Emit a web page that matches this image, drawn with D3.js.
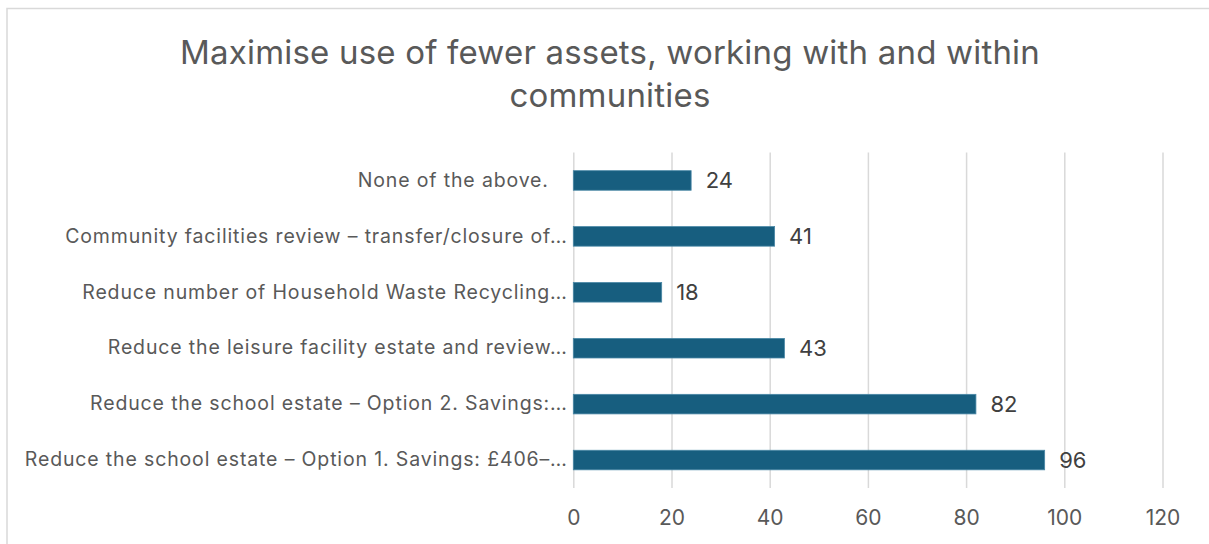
<!DOCTYPE html>
<html><head><meta charset="utf-8">
<script src="https://cdn.jsdelivr.net/npm/d3@7"></script>
<style>body{margin:0;background:#fff;} svg{display:block;} text{white-space:pre;}</style>
</head><body>
<svg id="c" width="1209" height="544"></svg>
<script>
const titleLines = ["Maximise use of fewer assets, working with and within", "communities"];
const categories = [
  "None of the above.\u00a0\u00a0\u00a0",
  "Community facilities review – transfer/closure of…",
  "Reduce number of Household Waste Recycling…",
  "Reduce the leisure facility estate and review…",
  "Reduce the school estate – Option 2. Savings:…",
  "Reduce the school estate – Option 1. Savings: £406–…"
];
const values = [24, 41, 18, 43, 82, 96];
const tickValues = [0, 20, 40, 60, 80, 100, 120];

const svg = d3.select("#c");
const font = "Inter, 'Open Sans', sans-serif";
svg.append("rect").attr("x",7).attr("y",8.5).attr("width",1300).attr("height",600)
  .attr("fill","#fff").attr("stroke","#d9d9d9").attr("stroke-width",1.5);

const m = {left:573.3, right:1162.5, top:152.5, bottom:488};
const x = d3.scaleLinear().domain([0,120]).range([m.left, m.right]);
const y = d3.scaleBand().domain(categories).range([m.top, m.bottom]).paddingInner(0.65).paddingOuter(0.325);

function fit(sel, target) {
  // uniform letter-spacing so the widest text of the group reaches target width
  let maxL = 0, maxN = 1;
  sel.each(function(){ const L=this.getComputedTextLength(); if (L>maxL){maxL=L; maxN=this.textContent.length;} });
  const ls = (target - maxL) / maxN;
  sel.attr("letter-spacing", ls);
}

// title
const tt = svg.append("g").selectAll("text").data(titleLines).join("text")
  .attr("x", 610).attr("y",(d,i)=>64.3 + i*43)
  .attr("text-anchor","middle").attr("font-family",font).attr("font-size",33)
  .attr("fill","#595959").text(d=>d);
fit(tt, 860);

// gridlines + x tick labels
const xAxis = d3.axisBottom(x).tickValues(tickValues).tickSize(-(m.bottom-m.top)).tickPadding(0);
const gx = svg.append("g").attr("transform",`translate(0,${m.bottom})`).call(xAxis);
gx.select(".domain").remove();
gx.selectAll(".tick line").attr("stroke","#d9d9d9").attr("stroke-width",1.5);
gx.selectAll(".tick text").attr("font-family",font).attr("font-size",21).attr("fill","#595959")
  .attr("dy",null).attr("y",37);

// bars
svg.append("g").selectAll("rect").data(values).join("rect")
  .attr("x", x(0)).attr("y",(d,i)=>y(categories[i]))
  .attr("width", d=>x(d)-x(0)).attr("height", y.bandwidth())
  .attr("fill","#175e7f").attr("stroke","#4a88a6").attr("stroke-width",0.8);

// category labels
const yAxis = d3.axisLeft(y).tickSize(0).tickPadding(5.5);
const gy = svg.append("g").attr("transform",`translate(${m.left},0)`).call(yAxis);
gy.select(".domain").remove();
const lab = gy.selectAll(".tick text").attr("font-family",font).attr("font-size",19.5).attr("fill","#595959");
fit(lab, 543);

// data labels
svg.append("g").selectAll("text").data(values).join("text")
  .attr("x", d=>x(d)+14.5).attr("y",(d,i)=>y(categories[i])+y.bandwidth()/2)
  .attr("dy","0.36em").attr("font-family",font).attr("font-size",22).attr("fill","#404040")
  .text(d=>d);
</script>
</body></html>
